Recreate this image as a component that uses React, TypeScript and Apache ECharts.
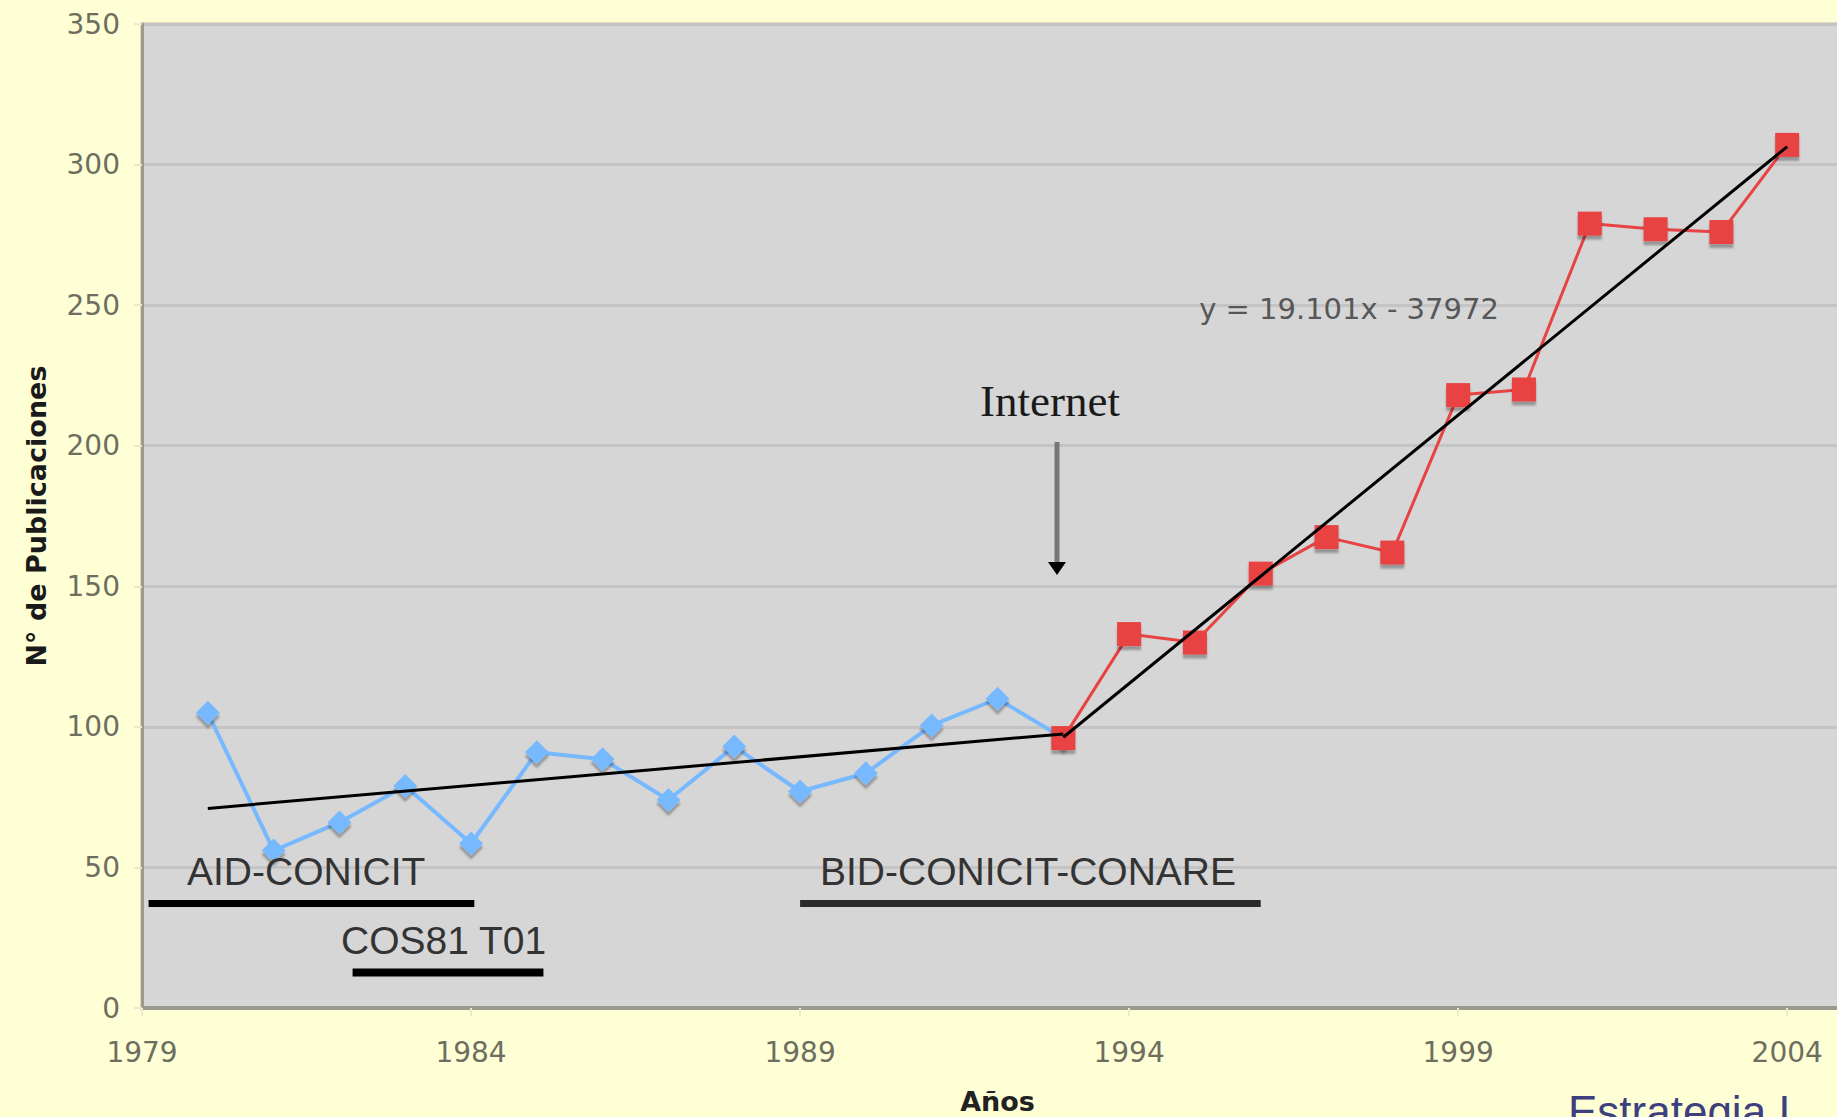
import React, { useEffect, useRef } from "react";
import * as echarts from "echarts";

// ---- data ----
const earlyYears = [1980, 1981, 1982, 1983, 1984, 1985, 1986, 1987, 1988, 1989, 1990, 1991, 1992, 1993];
const earlyPubs = [105, 56, 66, 79, 58.5, 91, 88.5, 74, 93, 77, 83.5, 100.5, 110, 96];
const lateYears = [1993, 1994, 1995, 1996, 1997, 1998, 1999, 2000, 2001, 2002, 2003, 2004];
const latePubs = [96, 133, 130, 154.5, 167.5, 162, 218, 220, 279, 277, 276, 307];
const earlyTrendYears = [1980, 1993];
const earlyTrendValues = [71, 97.5];
const lateTrendYears = [1993, 2004];
const lateTrendValues = [96.3, 306.4];
const programNames = ["AID-CONICIT", "COS81 T01", "BID-CONICIT-CONARE"];
const programStart = [1979.1, 1982.2, 1989.0];
const programEnd = [1984.05, 1985.1, 1996.0];
const programLevel = [37.2, 12.6, 37.2];
const xMin = 1979;
const xMax = 2005;
const xStep = 5;
const yMin = 0;
const yMax = 350;
const yStep = 50;
const yTitle = "N° de Publicaciones";
const xTitle = "Años";
const equationText = "y = 19.101x - 37972";
const eventText = "Internet";
const footerText = "Estrategia I";

const tickFont = "DejaVu Sans";
const tickColor = "#6e6e60";

export default function App() {
  const ref = useRef<HTMLDivElement>(null);

  useEffect(() => {
    if (!ref.current) return;
    const chart = echarts.init(ref.current, undefined, { renderer: "svg" });

    const programSeries = programNames.map((name, i) => ({
      name,
      type: "line",
      data: [
        [programStart[i], programLevel[i]],
        [programEnd[i], programLevel[i]],
      ],
      symbol: "none",
      lineStyle: { color: i === 2 ? "#2b2b2b" : "#000000", width: i === 1 ? 8 : 7, cap: "butt" },
      z: 5,
      silent: true,
    }));

    const option: any = {
      animation: false,
      backgroundColor: "#ffffd6",
      grid: {
        left: 142,
        top: 24,
        bottom: 109,
        right: -16,
        outerBoundsMode: "none",
        containLabel: false,
        show: true,
        backgroundColor: "#d6d6d6",
        borderColor: "#b9b8a6",
        borderWidth: 3,
      },
      xAxis: {
        type: "value",
        min: xMin,
        max: xMax,
        interval: xStep,
        name: xTitle,
        nameLocation: "middle",
        nameGap: 80,
        nameTextStyle: { fontFamily: tickFont, fontWeight: "bold", fontSize: 27, color: "#222" },
        axisLine: { show: true, onZero: false, lineStyle: { color: "#9a9a90", width: 4 } },
        axisTick: { show: true, length: 8, lineStyle: { color: "#ebeacf", width: 2 } },
        axisLabel: {
          margin: 30,
          fontFamily: tickFont,
          fontSize: 28,
          color: tickColor,
          formatter: (v: number) => ((v - xMin) % xStep === 0 && v < xMax ? String(v) : ""),
        },
        splitLine: { show: false },
      },
      yAxis: {
        type: "value",
        min: yMin,
        max: yMax,
        interval: yStep,
        name: yTitle,
        nameLocation: "middle",
        nameRotate: 90,
        nameGap: 92,
        nameTextStyle: { fontFamily: tickFont, fontWeight: "bold", fontSize: 27, color: "#1a1a1a" },
        axisLine: { show: true, lineStyle: { color: "#9a9a90", width: 3 } },
        axisTick: { show: true, length: 8, lineStyle: { color: "#ebeacf", width: 2 } },
        axisLabel: { margin: 22, fontFamily: tickFont, fontSize: 28, color: tickColor },
        splitLine: { show: true, lineStyle: { color: "#c4c4c4", width: 3 } },
      },
      series: [
        {
          name: "1980-1993",
          type: "line",
          data: earlyYears.map((y, i) => [y, earlyPubs[i]]),
          symbol: "diamond",
          symbolSize: 24,
          lineStyle: { color: "#77b9ff", width: 4 },
          itemStyle: {
            color: "#77b9ff",
            shadowColor: "rgba(0,0,0,0.3)",
            shadowBlur: 2,
            shadowOffsetY: 4,
          },
          z: 2,
        },
        {
          name: "1993-2004",
          type: "line",
          data: lateYears.map((y, i) => [y, latePubs[i]]),
          symbol: "rect",
          symbolSize: 24,
          lineStyle: { color: "#e84343", width: 3 },
          itemStyle: {
            color: "#e84343",
            shadowColor: "rgba(0,0,0,0.3)",
            shadowBlur: 2,
            shadowOffsetY: 4,
          },
          z: 3,
        },
        {
          name: "trend 1",
          type: "line",
          data: earlyTrendYears.map((y, i) => [y, earlyTrendValues[i]]),
          symbol: "none",
          lineStyle: { color: "#000", width: 3 },
          z: 4,
        },
        {
          name: "trend 2",
          type: "line",
          data: lateTrendYears.map((y, i) => [y, lateTrendValues[i]]),
          symbol: "none",
          lineStyle: { color: "#000", width: 3 },
          z: 4,
        },
        ...programSeries,
      ],
      graphic: [
        {
          type: "text",
          left: 187,
          top: 852,
          style: { text: programNames[0], font: '39px "Liberation Sans"', fill: "#333" },
          z: 10,
        },
        {
          type: "text",
          left: 341,
          top: 921,
          style: { text: programNames[1], font: '39px "Liberation Sans"', fill: "#333" },
          z: 10,
        },
        {
          type: "text",
          left: 820,
          top: 852,
          style: { text: programNames[2], font: '39px "Liberation Sans"', fill: "#333" },
          z: 10,
        },
        {
          type: "text",
          x: 1050,
          y: 378,
          style: {
            text: eventText,
            font: '45px "Liberation Serif"',
            fill: "#1a1a1a",
            align: "center",
            verticalAlign: "top",
          },
          z: 10,
        },
        {
          type: "line",
          shape: { x1: 1057, y1: 442, x2: 1057, y2: 564 },
          style: { stroke: "#777", lineWidth: 5 },
          z: 10,
        },
        {
          type: "polygon",
          shape: { points: [[1048, 562], [1066, 562], [1057, 575]] },
          style: { fill: "#000" },
          z: 10,
        },
        {
          type: "text",
          x: 1349,
          y: 294,
          style: {
            text: equationText,
            font: '29px "DejaVu Sans"',
            fill: "#575757",
            align: "center",
            verticalAlign: "top",
          },
          z: 10,
        },
        {
          type: "text",
          x: 1568,
          y: 1089,
          style: {
            text: footerText,
            font: '44px "Liberation Sans"',
            fill: "#3d3f7e",
            align: "left",
            verticalAlign: "top",
          },
          z: 10,
        },
      ],
    };

    chart.setOption(option);
    return () => chart.dispose();
  }, []);

  return (
    <div
      ref={ref}
      style={{ position: "fixed", left: 0, top: 0, width: 1837, height: 1117 }}
    />
  );
}
